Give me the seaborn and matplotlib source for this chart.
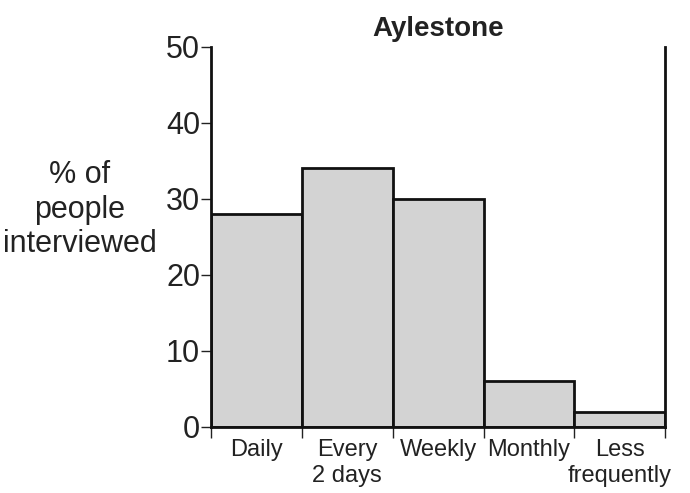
import matplotlib
matplotlib.use("Agg")
import matplotlib.pyplot as plt
import seaborn as sns
import numpy as np

# data
CATEGORIES = ["Daily", "Every\n2 days", "Weekly", "Monthly", "Less\nfrequently"]
VALUES = [28, 34, 30, 6, 2]
Y_TICKS = [0, 10, 20, 30, 40, 50]

sns.set_theme(style="white")
plt.rcParams['font.family'] = ['Liberation Sans', 'DejaVu Sans']

fig = plt.figure(figsize=(6.9, 4.93), dpi=100)
ax = fig.add_axes([0.306, 0.134, 0.658, 0.771])

sns.barplot(x=CATEGORIES, y=VALUES, width=1.0, color="#d3d3d3",
            edgecolor="#111111", linewidth=2, saturation=1, ax=ax)

ax.set_xlim(-0.5, len(CATEGORIES) - 0.5)
ax.set_ylim(0, 50)

# category boundaries get the ticks, labels sit in the middle
ax.set_xticks(np.arange(len(CATEGORIES) + 1) - 0.5)
ax.set_xticklabels([])
ax.set_xticks(np.arange(len(CATEGORIES)), minor=True)
ax.set_xticklabels(CATEGORIES, minor=True, fontsize=17, color="#222222",
                   linespacing=1.2)
ax.tick_params(axis="x", which="major", direction="out", length=8, width=1,
               color="#222222", bottom=True)
ax.tick_params(axis="x", which="minor", length=0, pad=9)

ax.set_yticks(Y_TICKS)
ax.set_yticklabels([str(t) for t in Y_TICKS], fontsize=22, color="#222222")
ax.tick_params(axis="y", direction="out", length=7, width=1, color="#222222",
               left=True, pad=1)

for side in ["left", "right", "bottom"]:
    ax.spines[side].set_visible(True)
    ax.spines[side].set_color("#111111")
    ax.spines[side].set_linewidth(2)
ax.spines["top"].set_visible(False)

ax.set_xlabel("")
ax.set_ylabel("% of\npeople\ninterviewed", rotation=0, fontsize=22,
              color="#222222", ha="center", va="center", linespacing=1.18)
ax.yaxis.set_label_coords(-0.289, 0.572)

ax.set_title("Aylestone", fontsize=20, fontweight="bold", color="#222222", pad=8)

fig.savefig("out.png", dpi=100)
